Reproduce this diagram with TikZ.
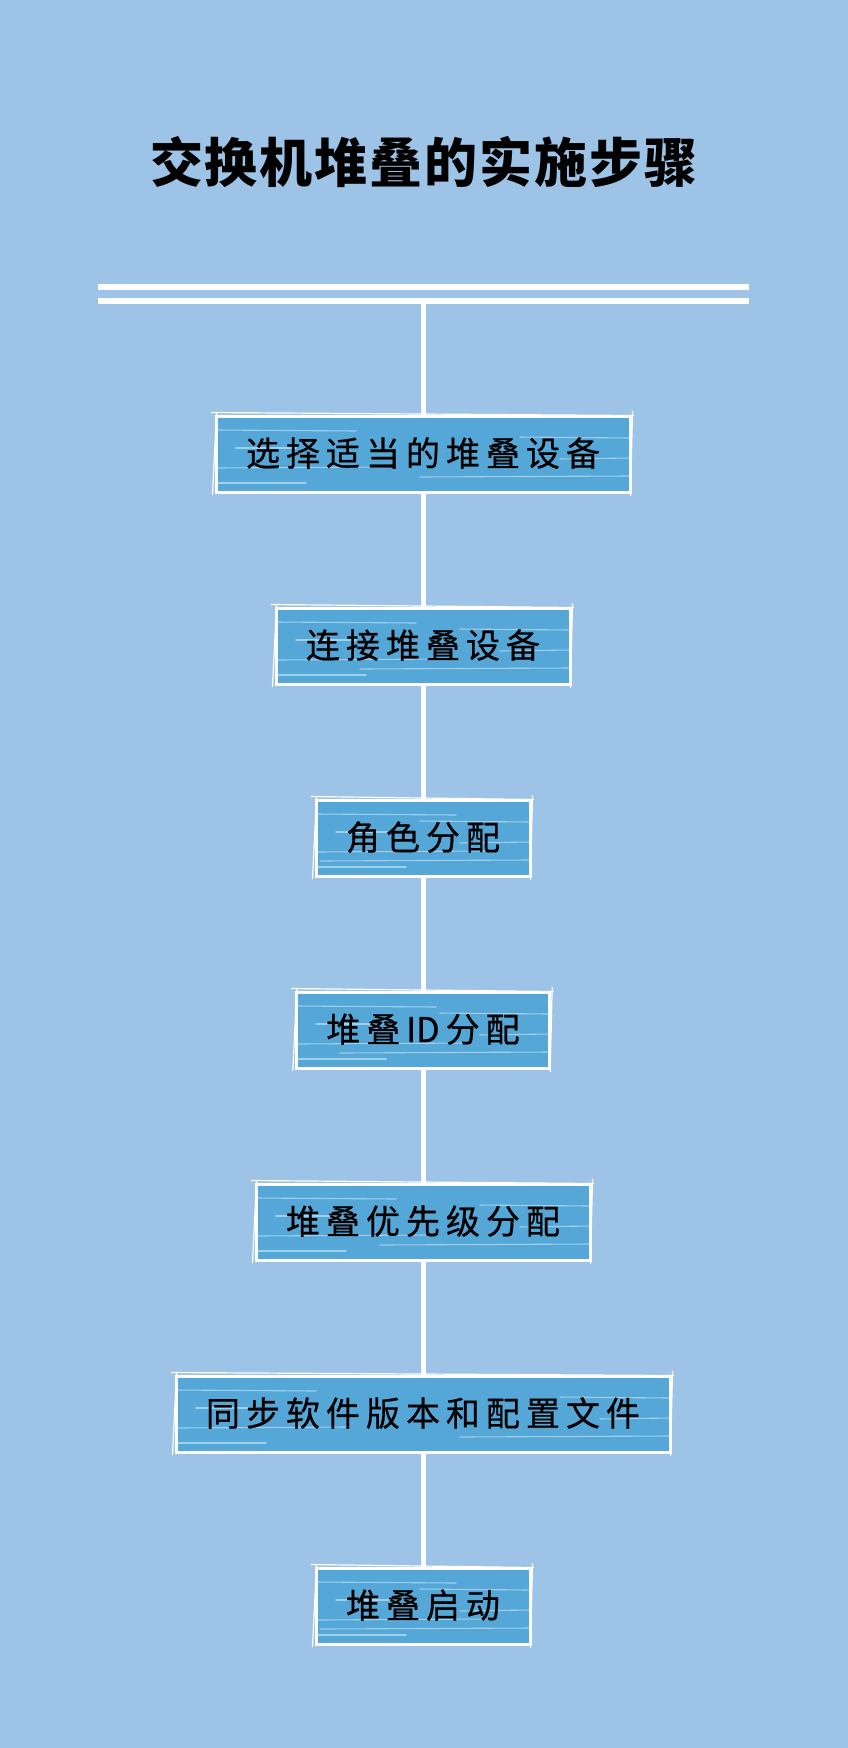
\documentclass[tikz,border=0pt]{standalone}
\usepackage{fontspec}
\newfontfamily\cjk{Noto Sans CJK SC}
\newfontfamily\cjkbody[FakeBold=0.6]{Noto Sans CJK SC}
\XeTeXinterchartokenstate=1
\newdimen\cjkgap
\cjkgap=0pt
\newcount\cjkcc
\cjkcc="4E00
\loop\ifnum\cjkcc<"A000
  \XeTeXcharclass\cjkcc=10
  \advance\cjkcc by 1
\repeat
\XeTeXinterchartoks 10 10 = {\hskip\cjkgap\relax}
\XeTeXinterchartoks 0 10 = {\hskip\cjkgap\relax}
\XeTeXinterchartoks 10 0 = {\hskip\cjkgap\relax}
\definecolor{bg}{HTML}{9DC3E6}
\definecolor{boxblue}{HTML}{55A7D7}
\tikzset{
  titlestyle/.style={font={\cjk\bfseries\fontsize{53pt}{53pt}\selectfont\cjkgap=2pt}, text=black, inner sep=0pt},
  streak/.style={white, opacity=0.45, line width=1.1pt, line cap=round},
  stepbox/.style={
    draw=white, line width=3pt, fill=boxblue, rectangle,
    minimum height=76pt, inner xsep=30pt, inner ysep=0pt,
    text height=27pt, text depth=3pt,
    font={\cjkbody\fontsize{34pt}{34pt}\selectfont\cjkgap=6pt}, text=black,
    path picture={
      \draw[streak] ([shift={(0,-24)}]path picture bounding box.west) -- ++(140,1);
      \draw[streak] ([shift={(0,-16)}]path picture bounding box.east) -- ++(-110,-1);
      \draw[streak] ([shift={(20,-6)}]path picture bounding box.west) -- ++(60,0);
      \draw[streak] ([shift={(0,4)}]path picture bounding box.east) -- ++(-70,1);
      \draw[streak] ([shift={(0,14)}]path picture bounding box.west) -- ++(170,-1);
      \draw[streak] ([shift={(0,22)}]path picture bounding box.east) -- ++(-210,1);
      \draw[streak] ([shift={(0,29)}]path picture bounding box.west) -- ++(90,0);
    },
    append after command={
      \pgfextra{\draw[white, line width=1.2pt, line cap=round]
        ([shift={(-3,-2)}]\tikzlastnode.north west) -- ([shift={(2,1)}]\tikzlastnode.north east)
        ([shift={(1,-3)}]\tikzlastnode.north east) -- ([shift={(-1,2)}]\tikzlastnode.south east)
        ([shift={(-2,1)}]\tikzlastnode.south west) -- ([shift={(2,-1)}]\tikzlastnode.north west);}
    }
  },
  bar/.style={white, line width=6pt},
  link/.style={white, line width=5pt}
}
\begin{document}
\begin{tikzpicture}[x=1pt, y=-1pt]
\fill[bg] (0,0) rectangle (848,1748);
\useasboundingbox (0,0) rectangle (848,1748);
\node[titlestyle] (title) at (424,162) {交换机堆叠的实施步骤};
\draw[bar] (98,287) -- (749,287);
\draw[bar] (98,301) -- (749,301);
\coordinate (top) at (423,302);
\node[stepbox] (s1) at (423,454) {选择适当的堆叠设备};
\node[stepbox] (s2) at (423,646) {连接堆叠设备};
\node[stepbox] (s3) at (423,838) {角色分配};
\node[stepbox] (s4) at (423,1030) {堆叠ID分配};
\node[stepbox] (s5) at (423,1222) {堆叠优先级分配};
\node[stepbox] (s6) at (423,1414) {同步软件版本和配置文件};
\node[stepbox] (s7) at (423,1606) {堆叠启动};
\draw[link] (top) -- (s1);
\draw[link] (s1) -- (s2);
\draw[link] (s2) -- (s3);
\draw[link] (s3) -- (s4);
\draw[link] (s4) -- (s5);
\draw[link] (s5) -- (s6);
\draw[link] (s6) -- (s7);
\end{tikzpicture}
\end{document}
